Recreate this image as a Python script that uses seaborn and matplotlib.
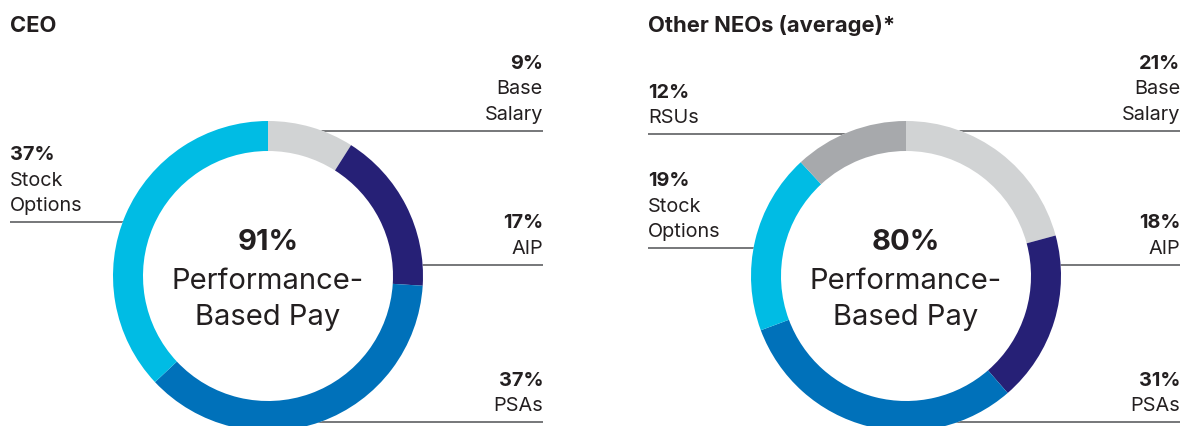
import matplotlib
matplotlib.use("Agg")
import matplotlib.pyplot as plt
from matplotlib.patches import Circle
import seaborn as sns

# Pay mix data (percent of target total direct compensation)
ceo_components = ["Base Salary", "AIP", "PSAs", "Stock Options"]
ceo_values = [9, 17, 37, 37]

neo_components = ["Base Salary", "AIP", "PSAs", "Stock Options", "RSUs"]
neo_values = [21, 18, 31, 19, 12]

panel_titles = ["CEO", "Other NEOs (average)*"]

component_colors = {
    "Base Salary": "#D1D3D4",
    "AIP": "#262076",
    "PSAs": "#0071BA",
    "Stock Options": "#00BCE4",
    "RSUs": "#A7A9AC",
}

sns.set_theme(style="white")
plt.rcParams["font.family"] = ["Inter", "DejaVu Sans"]

W, H = 1185, 426
TEXT = "#231F20"
LINE = "#5F6062"

fig = plt.figure(figsize=(W / 100, H / 100), dpi=100)
ax = fig.add_axes([0, 0, 1, 1])


def py(y):
    """Convert a top-down pixel row into the axes' bottom-up coordinate."""
    return H - y


# Panel layout: donut centre, radius, label edges and leader rows
panels = [
    dict(
        title=panel_titles[0], title_x=10, cx=268, cy=276,
        components=ceo_components, values=ceo_values,
        left_x=10, right_x=543,
        leaders={"Base Salary": ("right", 131), "AIP": ("right", 265),
                 "PSAs": ("right", 422), "Stock Options": ("left", 222)},
    ),
    dict(
        title=panel_titles[1], title_x=648, cx=906, cy=276,
        components=neo_components, values=neo_values,
        left_x=648, right_x=1180,
        leaders={"Base Salary": ("right", 131), "AIP": ("right", 265),
                 "PSAs": ("right", 422), "Stock Options": ("left", 248),
                 "RSUs": ("left", 134)},
    ),
]

R_OUT = 155
RING = 30
LINE_GAP = 25.5

for p in panels:
    cx, cy = p["cx"], py(p["cy"])
    colors = sns.color_palette([component_colors[c] for c in p["components"]])

    # leader lines sit underneath a white disc so they stop at the ring
    for comp, (side, row) in p["leaders"].items():
        x_end = p["right_x"] if side == "right" else p["left_x"]
        ax.plot([cx, x_end], [py(row), py(row)], color=LINE, lw=1.2,
                zorder=1, solid_capstyle="butt")
    ax.add_patch(Circle((cx, cy), R_OUT, facecolor="white",
                        edgecolor="none", zorder=2))

    wedges, _ = ax.pie(
        p["values"], colors=colors, startangle=90, counterclock=False,
        center=(cx, cy), radius=R_OUT,
        wedgeprops=dict(width=RING, edgecolor="none", linewidth=0),
    )
    for w in wedges:
        w.set_zorder(3)

    # component labels: bold percent followed by the name, bottom line above the leader
    for comp, val in zip(p["components"], p["values"]):
        side, row = p["leaders"][comp]
        x = p["right_x"] if side == "right" else p["left_x"]
        ha = "right" if side == "right" else "left"
        name_lines = comp.split(" ")
        lines = [(f"{val}%", "bold")] + [(n, "normal") for n in name_lines]
        base = row - 11
        for i, (txt, wt) in enumerate(reversed(lines)):
            ax.text(x, py(base - i * LINE_GAP), txt, ha=ha, va="baseline",
                    fontsize=14.3, fontweight=wt, color=TEXT, zorder=5)

    # centre statement: share of pay that is performance based
    perf_share = sum(v for c, v in zip(p["components"], p["values"])
                     if c != "Base Salary")
    ax.text(cx, py(250), f"{perf_share}%", ha="center", va="baseline",
            fontsize=21, fontweight="bold", color=TEXT, zorder=5)
    ax.text(cx, py(289), "Performance-", ha="center", va="baseline",
            fontsize=21, color=TEXT, zorder=5)
    ax.text(cx, py(325), "Based Pay", ha="center", va="baseline",
            fontsize=21, color=TEXT, zorder=5)

    ax.text(p["title_x"], py(31.5), p["title"], ha="left", va="baseline",
            fontsize=15.8, fontweight="bold", color=TEXT, zorder=5)

ax.set_xlim(0, W)
ax.set_ylim(0, H)
ax.set_aspect("equal")
ax.axis("off")

fig.savefig("out.png", dpi=100, facecolor="white")
